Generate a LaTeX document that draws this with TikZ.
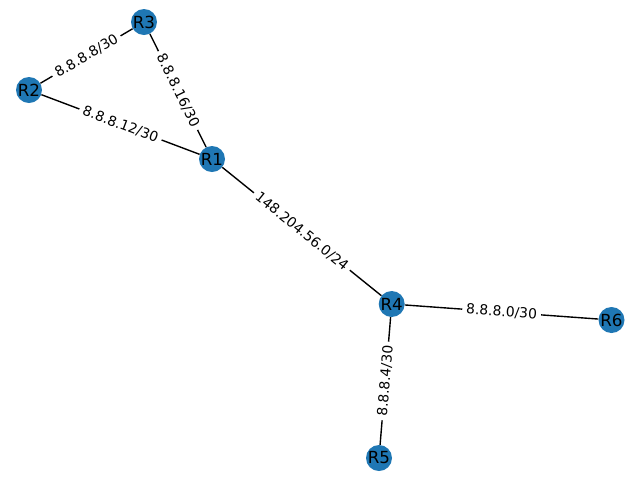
\documentclass[tikz,border=0pt]{standalone}
\usepackage{fontspec}
\setmainfont{DejaVu Sans}
\definecolor{nodeblue}{HTML}{1F77B4}
\begin{document}
\begin{tikzpicture}[x=0.75pt,y=-0.75pt,
  router/.style={circle,fill=nodeblue,minimum size=19.5pt,inner sep=0pt,font=\fontsize{12.5}{14}\selectfont,text=black},
  link/.style={black,line width=1.04pt},
  elabel/.style={fill=white,rounded corners=2pt,inner sep=3pt,font=\fontsize{10.4}{12}\selectfont,text=black,sloped,midway}]
\useasboundingbox (0,0) rectangle (640,480);
\node[router] (R3) at (144,22) {R3};
\node[router] (R2) at (29,90) {R2};
\node[router] (R1) at (212,159) {R1};
\node[router] (R4) at (391.7,304) {R4};
\node[router] (R6) at (611.5,320) {R6};
\node[router] (R5) at (379,458) {R5};
\draw[link] (R2) -- node[elabel] {8.8.8.8/30} (R3);
\draw[link] (R3) -- node[elabel] {8.8.8.16/30} (R1);
\draw[link] (R2) -- node[elabel] {8.8.8.12/30} (R1);
\draw[link] (R1) -- node[elabel] {148.204.56.0/24} (R4);
\draw[link] (R4) -- node[elabel] {8.8.8.0/30} (R6);
\draw[link] (R5) -- node[elabel] {8.8.8.4/30} (R4);
\end{tikzpicture}
\end{document}
